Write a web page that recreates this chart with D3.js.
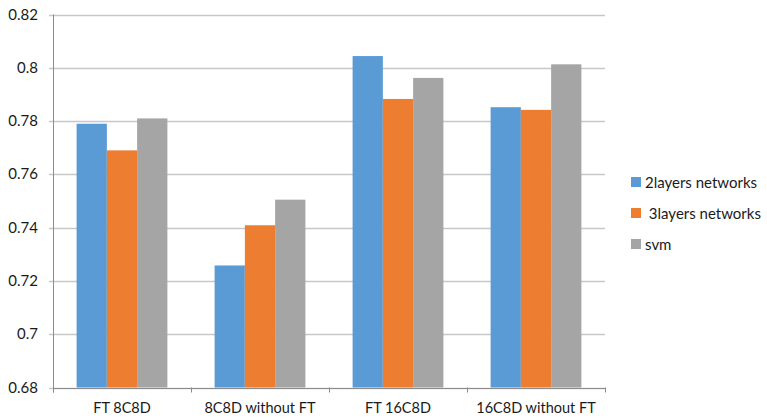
<!DOCTYPE html>
<html><head><meta charset="utf-8">
<script src="https://cdn.jsdelivr.net/npm/d3@7"></script>
<style>body{margin:0;background:#fff}svg{display:block}text{font-family:Lato,"Open Sans",sans-serif;fill:#1a1a1a}</style>
</head><body><svg id="c" width="767" height="419"></svg>
<script>
const categories = ["FT 8C8D", "8C8D without FT", "FT 16C8D", "16C8D without FT"];
const seriesNames = ["2layers networks", " 3layers networks", "svm"];
const twoLayers = [0.779, 0.7258, 0.8044, 0.7852];
const threeLayers = [0.769, 0.7409, 0.7883, 0.7842];
const svmVals = [0.781, 0.7505, 0.7962, 0.8013];
const yTicks = [0.68, 0.7, 0.72, 0.74, 0.76, 0.78, 0.8, 0.82];
const colors = ["#5b9bd5", "#ed7d31", "#a5a5a5"];

const series = [twoLayers, threeLayers, svmVals];
const svg = d3.select("#c");
const L = 53, R = 605, T = 14.5, B = 387.5;
const x = d3.scaleBand().domain(categories).range([L, R]).paddingInner(0).paddingOuter(0);
const y = d3.scaleLinear().domain([0.68, 0.82]).range([B, T]);
const inner = d3.scaleBand().domain(d3.range(3)).range([0, x.bandwidth()]).paddingOuter(0.78).paddingInner(0);

// gridlines
svg.append("g").selectAll("line").data(yTicks).join("line")
  .attr("x1", L - 4).attr("x2", R)
  .attr("y1", d => Math.round(y(d)) + 0.5).attr("y2", d => Math.round(y(d)) + 0.5)
  .attr("stroke", "#c8c8c8").attr("stroke-width", 1.3);

// bars
categories.forEach((c, i) => {
  series.forEach((s, j) => {
    svg.append("rect")
      .attr("x", x(c) + inner(j)).attr("width", inner.bandwidth())
      .attr("y", y(s[i])).attr("height", B - y(s[i]))
      .attr("fill", colors[j]);
  });
});

// axes
svg.append("line").attr("x1", L + 0.5).attr("x2", L + 0.5).attr("y1", T).attr("y2", B + 5).attr("stroke", "#8c8c8c");
svg.append("line").attr("x1", L).attr("x2", R).attr("y1", Math.round(B) + 0.5).attr("y2", Math.round(B) + 0.5).attr("stroke", "#8c8c8c");
const xb = categories.map(c => x(c)).concat([R]);
svg.append("g").selectAll("line").data(xb).join("line")
  .attr("x1", d => Math.round(d) + 0.5).attr("x2", d => Math.round(d) + 0.5)
  .attr("y1", B).attr("y2", B + 5).attr("stroke", "#8c8c8c");

// y labels
svg.append("g").selectAll("text").data(yTicks).join("text")
  .attr("x", 38).attr("y", d => y(d) + 5).attr("text-anchor", "end")
  .attr("font-size", 15).text(d => d3.format("")(+d.toFixed(2)));

// x labels
svg.append("g").selectAll("text").data(categories).join("text")
  .attr("x", d => x(d) + x.bandwidth() / 2).attr("y", 413).attr("text-anchor", "middle")
  .attr("font-size", 14.5).text(d => d);

// legend
const lg = svg.append("g");
seriesNames.forEach((n, j) => {
  const ly = 182 + j * 31;
  lg.append("rect").attr("x", 631).attr("y", ly - 5).attr("width", 10).attr("height", 10).attr("fill", colors[j]);
  lg.append("text").attr("x", 645).attr("y", ly + 5.5).attr("font-size", 15).style("white-space", "pre").text(n);
});
</script></body></html>
